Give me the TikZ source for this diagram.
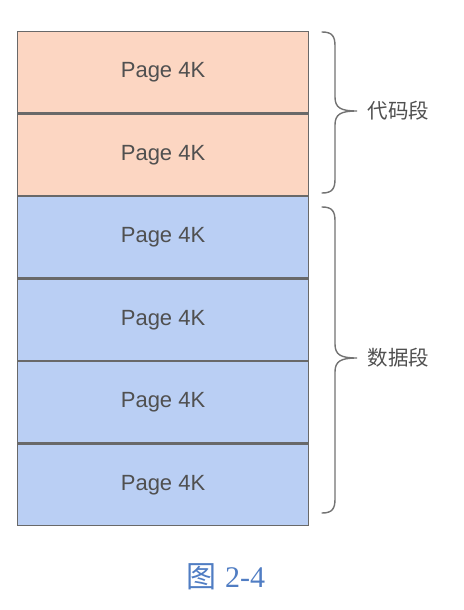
\documentclass[tikz,border=0pt]{standalone}
\usepackage{fontspec}
\setmainfont{Liberation Sans}
\newfontfamily\cjk{Noto Sans CJK SC}
\newfontfamily\capserif{Liberation Serif}
\definecolor{codefill}{RGB}{252,214,194}
\definecolor{datafill}{RGB}{186,207,244}
\definecolor{rim}{RGB}{105,105,105}
\definecolor{bracecol}{RGB}{115,115,115}
\definecolor{txt}{RGB}{80,80,80}
\definecolor{capblue}{RGB}{80,125,195}
\tikzset{
  page/.style={draw=rim, line width=1.1pt, minimum width=291pt, minimum height=81.4pt,
    inner sep=0pt, anchor=north west, text=txt, font=\fontsize{22}{24}\selectfont},
  codepage/.style={page, fill=codefill},
  datapage/.style={page, fill=datafill},
  segbrace/.style={draw=bracecol, line width=1.4pt, line cap=round},
  seglabel/.style={text=txt, anchor=west, font=\cjk\fontsize{20.5}{22}\selectfont}
}
% curly brace from y=#1 to y=#2 with its tip at y=#3
\newcommand{\segmentbrace}[3]{%
  \draw[segbrace] (322,#1) .. controls (332,#1) and (335,#1+4) .. (335,#1+14)
    -- (335,#3-14) .. controls (335,#3-3) and (341,#3) .. (357,#3)
    .. controls (341,#3) and (335,#3+3) .. (335,#3+14)
    -- (335,#2-14) .. controls (335,#2-4) and (332,#2) .. (322,#2);}
\begin{document}
\begin{tikzpicture}[x=1pt, y=-1pt]
  \useasboundingbox (0,0) rectangle (463,610);
  \fill[white] (0,0) rectangle (463,610);
  % memory pages
  \node[codepage] (p1) at (17,31) {Page 4K};
  \node[codepage] (p2) at (p1.south west) {Page 4K};
  \node[datapage] (p3) at (p2.south west) {Page 4K};
  \node[datapage] (p4) at (p3.south west) {Page 4K};
  \node[datapage] (p5) at (p4.south west) {Page 4K};
  \node[datapage] (p6) at (p5.south west) {Page 4K};
  % segment braces
  \segmentbrace{32}{193}{111}
  \segmentbrace{207}{513}{358}
  \node[seglabel] (code) at (364,111) {代码段};
  \node[seglabel] (data) at (364,358) {数据段};
  % caption
  \node[text=capblue, font=\fontsize{30}{32}\selectfont] (cap) at (226,577)
    {{\cjk 图} {\capserif 2-4}};
\end{tikzpicture}
\end{document}
